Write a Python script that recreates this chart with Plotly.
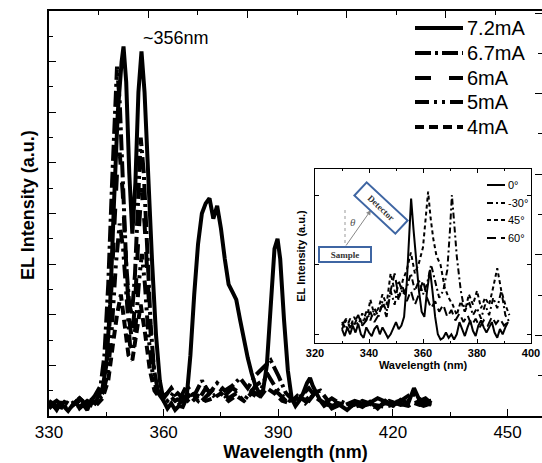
import plotly.graph_objects as go

# ---------------- data ----------------
# main panel: EL spectra at different drive currents
currents = ["7.2mA", "6.7mA", "6mA", "5mA", "4mA"]

wl_72 = [330, 331, 332, 333, 334, 335, 336, 337, 338, 339, 340, 341, 342, 343, 344, 345, 346, 347, 348, 349,
         349.5, 350.2, 351, 351.8, 352.6, 353.4, 354.2, 355, 356, 357, 358, 359, 360, 361, 362, 363, 364, 365,
         366, 367, 368, 369, 370, 371, 372, 373, 374, 375, 376, 377, 378, 379, 380, 381, 382, 383, 384, 385,
         386, 387, 388, 389, 389.8, 390.5, 391.5, 392.5, 393.5, 394.5, 395.5, 396.5, 397.5, 398.3, 399, 400,
         401, 402, 403, 404, 406, 408, 410, 412, 414, 416, 418, 420, 422, 424, 425.5, 427, 428.5, 430]
int_72 = [0.15, 0.22, 0.12, 0.25, 0.18, 0.10, 0.20, 0.28, 0.15, 0.22, 0.12, 0.30, 0.25, 0.40, 0.55, 1.0, 2.2, 4.2, 6.0, 7.0,
          7.3, 6.6, 4.8, 3.6, 4.6, 6.4, 7.2, 6.4, 4.6, 3.0, 1.6, 0.7, 0.30, 0.15, 0.25, 0.12, 0.20, 0.18,
          0.35, 1.2, 2.4, 3.4, 4.0, 4.2, 4.3, 3.9, 4.15, 3.7, 3.1, 2.6, 2.45, 2.3, 1.9, 1.5, 1.15, 0.85, 0.60, 0.45,
          0.50, 1.0, 2.2, 3.3, 3.5, 3.1, 1.9, 0.9, 0.35, 0.20, 0.30, 0.45, 0.65, 0.75, 0.60, 0.45,
          0.30, 0.20, 0.25, 0.15, 0.22, 0.12, 0.25, 0.18, 0.28, 0.15, 0.30, 0.20, 0.32, 0.25, 0.55, 0.30, 0.35, 0.25]

wl_67 = [330, 332, 334, 336, 338, 340, 342, 343.5, 344.5, 345.5, 346.5, 347.2, 347.8, 348.5, 349.3, 350.2, 351,
         351.7, 352.5, 353.3, 354, 354.8, 355.7, 356.6, 357.5, 358.5, 360, 362, 364, 366, 368, 370, 372, 374,
         376, 378, 380, 382, 384, 386, 388, 390, 392, 394, 396, 398, 400, 402, 404, 407, 410, 413, 416, 419,
         422, 425, 428, 430]
int_67 = [0.25, 0.18, 0.30, 0.20, 0.35, 0.22, 0.40, 0.60, 1.2, 2.6, 4.6, 6.0, 6.9, 6.2, 4.6, 3.0, 2.2,
          2.0, 2.8, 4.4, 5.5, 4.8, 3.2, 1.8, 0.9, 0.5, 0.35, 0.55, 0.30, 0.60, 0.40, 0.70, 0.45, 0.65,
          0.50, 0.60, 0.75, 0.55, 0.80, 0.95, 1.1, 0.80, 0.45, 0.30, 0.40, 0.55, 0.35, 0.25, 0.35, 0.20, 0.30, 0.22, 0.35, 0.25,
          0.30, 0.45, 0.28, 0.30]

wl_6 = [330, 332, 334, 336, 338, 340, 342, 344, 345, 346, 347, 347.8, 348.5, 349.3, 350.2, 351, 351.7, 352.5,
        353.3, 354.2, 355, 355.8, 356.7, 357.6, 358.6, 360, 362, 364, 366, 368, 370, 372, 374, 376, 378, 380,
        382, 384, 386, 388, 390, 392, 394, 396, 398, 400, 402, 404, 407, 410, 413, 416, 419, 422, 425, 428, 430]
int_6 = [0.30, 0.20, 0.15, 0.28, 0.18, 0.30, 0.22, 0.45, 0.9, 2.0, 3.6, 4.8, 5.2, 4.4, 3.0, 1.9, 1.5, 2.2,
         3.4, 4.5, 3.8, 2.6, 1.5, 0.8, 0.45, 0.30, 0.40, 0.25, 0.35, 0.50, 0.30, 0.45, 0.60, 0.40, 0.55, 0.45,
         0.35, 0.60, 0.70, 0.55, 0.45, 0.30, 0.25, 0.35, 0.30, 0.50, 0.30, 0.20, 0.28, 0.18, 0.25, 0.20, 0.30, 0.22, 0.28, 0.20, 0.25]

wl_5 = [330, 332, 334, 336, 338, 340, 342, 344, 345.5, 346.5, 347.5, 348.5, 349.4, 350.3, 351.2, 352, 352.8,
        353.6, 354.3, 355.1, 356, 357, 358, 359.5, 361, 363, 365, 367, 369, 371, 373, 375, 377, 379, 381,
        383, 385, 387, 389, 391, 393, 395, 397, 399, 401, 403, 406, 409, 412, 415, 418, 421, 424, 427, 430]
int_5 = [0.20, 0.30, 0.18, 0.25, 0.35, 0.20, 0.30, 0.40, 0.9, 1.8, 3.0, 3.8, 3.3, 2.2, 1.4, 1.3, 1.9,
         2.7, 3.2, 2.6, 1.6, 0.9, 0.55, 0.40, 0.30, 0.50, 0.35, 0.45, 0.30, 0.55, 0.40, 0.50, 0.35, 0.45, 0.30,
         0.50, 0.40, 0.85, 0.60, 0.40, 0.30, 0.35, 0.25, 0.40, 0.30, 0.22, 0.30, 0.20, 0.28, 0.18, 0.25, 0.20, 0.30, 0.22, 0.25]

wl_4 = [330, 332, 334, 336, 338, 340, 342, 344, 345.5, 346.7, 347.8, 348.8, 349.8, 350.8, 351.8, 352.8, 354,
        355.2, 356.4, 357.6, 359, 361, 363, 365, 367, 369, 371, 373, 375, 377, 379, 381, 383, 385, 387, 389,
        391, 393, 395, 397, 399, 401, 403, 406, 409, 412, 415, 418, 421, 424, 427, 430]
int_4 = [0.25, 0.15, 0.28, 0.20, 0.30, 0.25, 0.18, 0.35, 0.7, 1.4, 2.0, 2.4, 1.8, 1.2, 1.1, 1.6, 2.2,
         1.6, 0.9, 0.5, 0.35, 0.45, 0.30, 0.40, 0.25, 0.40, 0.30, 0.35, 0.45, 0.30, 0.40, 0.30, 0.45, 0.35, 0.55, 0.45,
         0.30, 0.25, 0.40, 0.30, 0.45, 0.50, 0.30, 0.25, 0.20, 0.30, 0.22, 0.18, 0.25, 0.20, 0.30, 0.22]

# inset: EL spectra at different detection angles
angles = ["0\u00b0", "-30\u00b0", "45\u00b0", "60\u00b0"]

ia_wl = [330, 331, 332, 333, 334, 335, 336, 337, 338, 339, 340, 341, 342, 343, 344, 345, 346, 347, 348, 349,
         350, 351, 352, 353, 354, 355, 355.6, 356.5, 357.5, 358.5, 359.5, 360.5, 361.5, 362.6, 363.5, 364.5,
         365.5, 366.5, 367.5, 368.5, 369.5, 370.5, 371.5, 372.5, 373.5, 374.5, 375.5, 376.5, 377.5, 378.5,
         379.5, 380.5, 381.5, 382.5, 383.5, 384.5, 385.5, 386.5, 387.5, 388.5, 389.5, 390.5, 391.5]
ia_0 = [0.8, 0.4, 0.9, 0.5, 1.0, 0.6, 1.1, 0.5, 0.3, 0.9, 0.6, 0.4, 0.8, 1.0, 0.5, 0.9, 0.6, 0.3, 0.5, 0.9,
        1.2, 0.8, 1.0, 1.5, 3.5, 6.5, 8.3, 6.5, 4.5, 3.0, 1.8, 1.5, 3.0, 4.2, 3.0, 1.5,
        0.5, 0.2, 0.3, 0.6, 0.3, 0.5, 0.2, 0.5, 1.2, 0.8, 0.4, 0.9, 1.3, 0.7,
        0.4, 1.0, 1.3, 0.9, 0.6, 0.9, 1.2, 0.6, 0.3, 0.8, 0.5, 0.9, 1.2]

ib_wl = [330, 331.5, 333, 334.5, 336, 337.5, 339, 340.5, 342, 343.5, 345, 346.5, 348, 349.5, 351, 352.5, 354,
         355.5, 357, 358.5, 360, 361.5, 363, 364.5, 366, 367.5, 369, 370, 370.7, 371.5, 372.5, 374, 375.5,
         377, 378.5, 380, 381.5, 383, 384.5, 386, 387.5, 389, 390.5, 392]
ib_30 = [1.2, 0.8, 1.4, 1.0, 1.6, 1.1, 1.8, 1.3, 2.0, 1.5, 2.4, 1.8, 3.0, 2.2, 3.6, 2.8, 3.2,
         4.0, 3.0, 3.6, 2.8, 3.4, 4.5, 3.6, 2.6, 3.0, 4.2, 6.5, 8.5, 7.0, 5.0, 3.0, 1.8,
         2.4, 1.6, 2.0, 1.4, 2.2, 1.6, 2.6, 2.0, 3.0, 1.6, 1.2]

ic_wl = [330, 331.5, 333, 334.5, 336, 337.5, 339, 340.5, 342, 343.5, 345, 346.5, 348, 349.5, 351, 352.5, 354,
         355.5, 357, 358.5, 360, 361, 361.9, 362.8, 363.8, 365, 366.5, 368, 369.5, 371, 372.5, 374, 375.5,
         377, 378.5, 380, 381.5, 383, 384.5, 386, 387.5, 389, 390.5, 392]
ic_45 = [0.8, 1.3, 0.9, 1.5, 1.0, 1.7, 1.2, 2.5, 1.6, 2.0, 2.8, 2.2, 4.0, 3.0, 2.5, 3.6, 4.2,
         5.2, 4.0, 4.6, 5.5, 7.0, 8.7, 7.2, 6.0, 5.0, 4.5, 3.2, 2.6, 2.2, 1.6, 2.4, 1.8,
         2.8, 2.2, 3.0, 2.0, 2.6, 2.2, 3.2, 4.3, 3.0, 2.2, 1.6]

id_wl = [330, 331.5, 333, 334.5, 336, 337.5, 339, 340.5, 342, 343.5, 345, 346.5, 348, 349.5, 351, 352.5, 354,
         355.5, 357, 358.5, 360, 361.5, 363, 364.5, 366, 367.5, 369, 370.5, 372, 373.5, 375, 376.5, 378,
         379.5, 381, 382.5, 384, 385.5, 387, 388.5, 390, 391.5]
id_60 = [1.0, 1.4, 0.9, 1.2, 1.6, 1.0, 1.3, 1.8, 1.2, 1.6, 2.2, 1.5, 3.0, 4.0, 2.6, 3.2, 2.4,
         3.0, 2.2, 2.8, 3.6, 2.6, 2.0, 2.4, 1.8, 2.2, 1.5, 1.9, 1.3, 1.7, 1.2, 1.6, 1.0,
         1.4, 0.9, 1.3, 1.0, 1.5, 1.1, 1.4, 1.0, 1.2]

# ---------------- styles ----------------
main_dash = ["solid", "16px,4px,3px,4px", "16px,18px", "14px,5px,3px,5px,3px,5px", "9px,5px"]
inset_dash = ["solid", "6px,3px,2px,3px", "4px,3px", "9px,5px"]
FONT = "Liberation Sans, Arial, sans-serif"
SERIF = "Liberation Serif, Times New Roman, serif"

W, H = 542, 463
L, R, T, B = 49, 0, 11, 47
PW, PH = W - L - R, H - T - B


def px(x):
    return (x - L) / PW


def py(y):
    return (H - B - y) / PH


fig = go.Figure()

main_series = [(wl_72, int_72), (wl_67, int_67), (wl_6, int_6), (wl_5, int_5), (wl_4, int_4)]
for name, (xs, ys), d in zip(currents, main_series, main_dash):
    fig.add_trace(go.Scatter(x=xs, y=ys, mode="lines", name=name, showlegend=False,
                             line=dict(color="black", width=4, dash=d),
                             xaxis="x", yaxis="y"))

inset_series = [(ia_wl, ia_0), (ib_wl, ib_30), (ic_wl, ic_45), (id_wl, id_60)]
for name, (xs, ys), d in zip(angles, inset_series, inset_dash):
    fig.add_trace(go.Scatter(x=xs, y=ys, mode="lines", name=name, showlegend=False,
                             line=dict(color="black", width=2, dash=d),
                             xaxis="x2", yaxis="y2"))

axis_common = dict(showgrid=False, zeroline=False, color="black")

fig.update_layout(
    width=W, height=H,
    margin=dict(l=L, r=R, t=T, b=B, pad=0, autoexpand=False),
    paper_bgcolor="white", plot_bgcolor="white",
    font=dict(family=FONT, color="black"),
    showlegend=False,
    xaxis=dict(**axis_common, range=[330, 459], domain=[0, 1], tickmode="array",
               tickvals=[330, 360, 390, 420, 450], ticks="inside", ticklen=7, tickwidth=1.2,
               minor=dict(dtick=15, tick0=330, ticks="inside", ticklen=4, tickwidth=1.2),
               showline=True, linewidth=1.5, linecolor="black", mirror=True,
               tickfont=dict(size=17, family=FONT),
               title=dict(text="<b>Wavelength (nm)</b>", font=dict(size=18, family=FONT), standoff=4),
               automargin=False),
    yaxis=dict(**axis_common, range=[0, 8], domain=[0, 1], dtick=1, tick0=0, ticks="inside", ticklen=7,
               tickwidth=1.2, minor=dict(dtick=0.5, ticks="inside", ticklen=4, tickwidth=1.2),
               showticklabels=False, showline=True, linewidth=1.5, linecolor="black",
               automargin=False),
    # decorative top ticks
    xaxis3=dict(**axis_common, overlaying="x", side="top", range=[0, PW / 99.2], dtick=1, tick0=0,
                ticks="inside", ticklen=7, tickwidth=1.2, showticklabels=False, showline=False,
                minor=dict(dtick=0.5, ticks="inside", ticklen=4, tickwidth=1.2), anchor="y"),
    # decorative right ticks
    yaxis3=dict(**axis_common, overlaying="y", side="right", range=[0, PH / 80.6], dtick=1, tick0=0,
                ticks="inside", ticklen=7, tickwidth=1.2, showticklabels=False, showline=False,
                minor=dict(dtick=0.5, ticks="inside", ticklen=4, tickwidth=1.2), anchor="x"),
    # inset axes
    xaxis2=dict(**axis_common, range=[320, 400], domain=[px(315), px(531)], anchor="y2",
                tickvals=[320, 340, 360, 380, 400], ticks="inside", ticklen=4, tickwidth=1,
                minor=dict(dtick=10, ticks="inside", ticklen=2), showline=True, linewidth=1.2,
                linecolor="black", mirror="allticks",
                tickfont=dict(size=11, family=FONT, weight="bold"),
                title=dict(text="<b>Wavelength (nm)</b>", font=dict(size=11, family=FONT), standoff=2)),
    yaxis2=dict(**axis_common, range=[0, 10], domain=[py(343), py(169)], anchor="x2",
                dtick=4, tick0=0.5, ticks="inside", ticklen=4, tickwidth=1, showticklabels=False,
                showline=True, linewidth=1.2, linecolor="black", mirror="allticks",
                title=dict(text="<b>EL Intensity (a.u.)</b>", font=dict(size=11, family=FONT), standoff=6)),
)

# dummy traces to activate decorative axes
fig.add_trace(go.Scatter(x=[None], y=[None], xaxis="x3", yaxis="y", showlegend=False))
fig.add_trace(go.Scatter(x=[None], y=[None], xaxis="x", yaxis="y3", showlegend=False))

shapes = []
annotations = []

# main y title
annotations.append(dict(text="<b>EL Intensity (a.u.)</b>", xref="paper", yref="paper", x=px(28), y=py(205),
                        xanchor="center", yanchor="middle", textangle=-90, showarrow=False,
                        font=dict(size=18, family=FONT, color="black")))

# main legend (drawn manually)
leg_rows = [28, 53, 78, 102, 127]
for name, d, yy in zip(currents, main_dash, leg_rows):
    shapes.append(dict(type="line", xref="paper", yref="paper", x0=px(415), x1=px(463), y0=py(yy), y1=py(yy),
                       line=dict(color="black", width=4, dash=d)))
    annotations.append(dict(text=name, xref="paper", yref="paper", x=px(465), y=py(yy), xanchor="left",
                            yanchor="middle", showarrow=False, font=dict(size=20, family=FONT, color="black")))

# inset legend
ileg_rows = [185, 203, 220, 238]
for name, d, yy in zip(angles, inset_dash, ileg_rows):
    shapes.append(dict(type="line", xref="paper", yref="paper", x0=px(487), x1=px(505), y0=py(yy), y1=py(yy),
                       line=dict(color="black", width=2, dash=d)))
    annotations.append(dict(text=name, xref="paper", yref="paper", x=px(506), y=py(yy), xanchor="left",
                            yanchor="middle", showarrow=False, font=dict(size=11, family=FONT, color="black")))

# peak label
annotations.append(dict(text="~356nm", xref="paper", yref="paper", x=px(141), y=py(38), xanchor="left",
                        yanchor="middle", showarrow=False, font=dict(size=18, family=FONT, color="black")))

# schematic in inset
shapes.append(dict(type="line", xref="paper", yref="paper", x0=px(345), x1=px(345), y0=py(210), y1=py(247),
                   line=dict(color="#999999", width=1, dash="dot")))
annotations.append(dict(text="", xref="paper", yref="paper", x=px(371), y=py(210), ax=-26, ay=37,
                        showarrow=True, arrowhead=2, arrowsize=1, arrowwidth=1, arrowcolor="#888888"))
annotations.append(dict(text="<i>\u03b8</i>", xref="paper", yref="paper", x=px(353), y=py(222),
                        xanchor="center", yanchor="middle",
                        showarrow=False, font=dict(size=11, family=SERIF, color="#555555")))
annotations.append(dict(text="<b>Sample</b>", xref="paper", yref="paper", x=px(344.5), y=py(254.5),
                        xanchor="center", yanchor="middle",
                        showarrow=False, width=48, height=11, borderpad=1, bordercolor="#3f66a3",
                        borderwidth=2, bgcolor="white", font=dict(size=9, family=SERIF, color="#333333")))
annotations.append(dict(text="<b>Detector</b>", xref="paper", yref="paper", x=px(381), y=py(208),
                        xanchor="center", yanchor="middle",
                        showarrow=False, width=50, height=12, borderpad=2, bordercolor="#3f66a3",
                        borderwidth=2, bgcolor="white", textangle=43,
                        font=dict(size=9, family=SERIF, color="#333333")))

fig.update_layout(shapes=shapes, annotations=annotations)

fig.write_html("out.html")
